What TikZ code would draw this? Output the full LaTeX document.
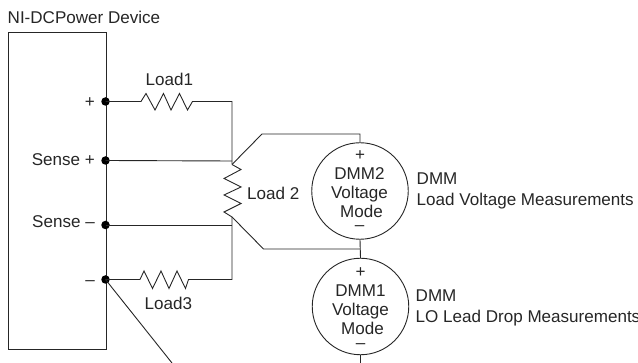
\documentclass[tikz,border=0pt]{standalone}
\usepackage{fontspec}
\setmainfont{Liberation Sans}
\tikzset{
  wire/.style={line width=0.9pt,line join=miter,black!85},
  term/.style={circle,fill=black,inner sep=0pt,minimum size=8.5pt},
  lbl/.style={inner sep=0pt,font=\fontsize{17.05}{20.5}\selectfont,text=black!85},
  meter/.style={circle,draw=black!85,line width=0.9pt,minimum size=96.5pt,inner sep=0pt},
  mtxt/.style={lbl,anchor=base}
}
\begin{document}
\begin{tikzpicture}[x=1pt,y=-1pt]
\useasboundingbox (0,0) rectangle (638,363);
\node[lbl,anchor=base west] (title) at (7.5,24) {NI-DCPower Device};
\node[draw=black!85,line width=0.9pt,inner sep=0pt,minimum width=97.5pt,minimum height=317pt,anchor=north west] (dev) at (8,32) {};
\node[term] (tp) at (105.5,101.5) {};
\node[term] (tsp) at (105.5,160.5) {};
\node[term] (tsm) at (105.5,225) {};
\node[term] (tm) at (105.5,279.5) {};
\node[lbl,anchor=base east] (lp) at (95,108) {+};
\node[lbl,anchor=base east] (lsp) at (95,166) {Sense +};
\node[lbl,anchor=base east] (lsm) at (95,227.7) {Sense –};
\node[lbl,anchor=base east] (lm) at (95,285.5) {–};
\node[meter] (d2) at (360,191) {};
\node[meter] (d1) at (360.5,306.5) {};
\node[mtxt] (d2p) at (360,161) {+};
\node[mtxt] (d2a) at (359.5,179.5) {DMM2};
\node[mtxt] (d2b) at (359.5,199) {Voltage};
\node[mtxt] (d2c) at (361.5,218) {Mode};
\node[mtxt] (d2m) at (359.5,231) {–};
\node[mtxt] (d1p) at (360.5,277.5) {+};
\node[mtxt] (d1a) at (360.5,296.7) {DMM1};
\node[mtxt] (d1b) at (360.5,316) {Voltage};
\node[mtxt] (d1c) at (362.5,335) {Mode};
\node[mtxt] (d1m) at (360.5,348.5) {–};
\node[lbl,anchor=base west] (r1) at (145.5,85.5) {Load1};
\node[lbl,anchor=base west] (r2) at (247,199.3) {Load 2};
\node[lbl,anchor=base west] (r3) at (144.5,309.3) {Load3};
\node[lbl,anchor=base west] (t2) at (416.5,185) {DMM};
\node[lbl,anchor=base west] (t2b) at (416.5,205.7) {Load Voltage Measurements};
\node[lbl,anchor=base west] (t1) at (415.5,301.7) {DMM};
\node[lbl,anchor=base west] (t1b) at (415.5,322.3) {LO Lead Drop Measurements};
\coordinate (jt) at (232,101.5);
\coordinate (ja) at (232,161);
\coordinate (jz) at (232,164.5);
\coordinate (jb) at (232,217);
\coordinate (jc) at (232,225);
\coordinate (jd) at (232,279.5);
\coordinate (e2) at (262,134);
\coordinate (f2) at (263.5,249);
\coordinate (m2t) at (360,134);
\coordinate (m2b) at (360,249);
\coordinate (bot) at (172,363);
\coordinate (mend) at (360.5,363);
\draw[wire] (tp.center) -- (141,101.5) -- (146,93.5) -- (155,110) -- (163.5,93.5) -- (171,110) -- (179.5,93.5) -- (187.5,110) -- (192.5,101.5) -- (jt) -- (jz);
\draw[wire] (ja) -- (tsp.center);
\draw[wire] (jz) -- (e2) -- (m2t) -- (d2.north);
\draw[wire] (jz) -- (241,169.5) -- (224,178.5) -- (241,187) -- (224,195) -- (241,203.5) -- (224,212) -- (jb) -- (f2) -- (m2b);
\draw[wire] (d2.south) -- (d1.north);
\draw[wire] (jb) -- (jd) -- (188.5,279.5) -- (185.5,288.5) -- (177,271) -- (169,288.5) -- (161,271) -- (152.5,288.5) -- (144,271) -- (140,279.5) -- (tm.center);
\draw[wire] (tsm.center) -- (jc);
\draw[wire] (tm.center) -- (bot);
\draw[wire] (d1.south) -- (mend);
\end{tikzpicture}
\end{document}
